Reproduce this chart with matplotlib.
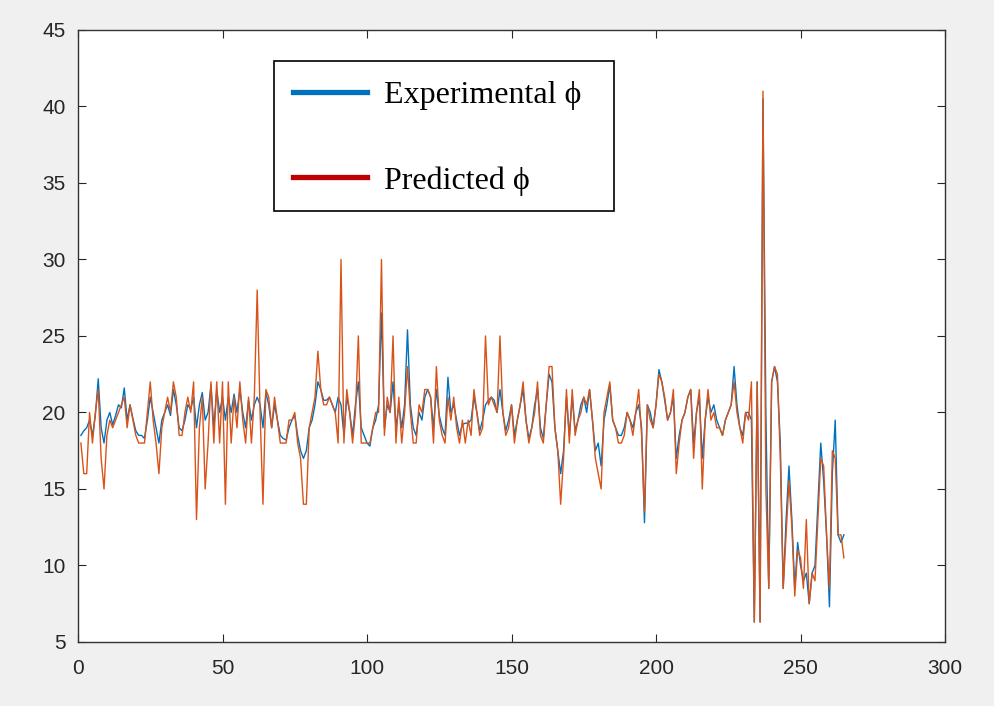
import matplotlib
matplotlib.use("Agg")
import matplotlib.pyplot as plt
from matplotlib.lines import Line2D
from matplotlib.patches import Rectangle

# valores (indice 1..265)
experimental = [
    18.5, 18.8, 19.0, 19.5, 18.5, 19.8, 22.2, 19.0, 18.0, 19.5,
    20.0, 19.2, 19.8, 20.5, 20.3, 21.6, 19.5, 20.5, 19.6, 18.8,
    18.5, 18.5, 18.3, 19.5, 21.0, 20.0, 19.0, 18.0, 19.5, 20.0,
    20.5, 19.8, 21.5, 20.5, 19.0, 18.8, 19.5, 20.5, 20.2, 21.0,
    19.0, 20.5, 21.3, 19.5, 20.0, 21.8, 19.0, 21.5, 20.0, 21.0,
    19.5, 21.0, 20.0, 21.2, 20.0, 21.5, 20.0, 19.0, 20.8, 19.5,
    20.5, 21.0, 20.5, 19.0, 21.3, 20.5, 19.0, 20.5, 19.5, 18.5,
    18.3, 18.2, 19.0, 19.5, 19.8, 18.5, 17.5, 17.0, 17.5, 19.0,
    19.5, 20.5, 22.0, 21.5, 20.8, 20.8, 21.0, 20.5, 20.0, 21.0,
    20.5, 18.5, 21.0, 20.0, 18.5, 20.5, 22.0, 19.0, 18.5, 18.0,
    17.8, 19.0, 19.5, 20.5, 26.5, 19.0, 20.5, 20.0, 22.0, 19.0,
    20.5, 19.0, 20.5, 25.4, 20.5, 19.0, 18.5, 20.0, 19.5, 21.0,
    21.5, 21.0, 19.0, 21.5, 19.8, 19.0, 18.5, 22.3, 20.0, 20.5,
    19.5, 18.5, 19.2, 19.3, 19.3, 19.5, 21.0, 20.0, 18.8, 19.5,
    20.5, 20.8, 21.0, 20.8, 20.0, 21.5, 20.0, 18.8, 19.5, 20.5,
    18.5, 19.5, 20.5, 21.5, 19.5, 18.3, 19.0, 20.5, 21.5, 19.0,
    18.3, 20.5, 22.5, 22.0, 19.0, 17.5, 16.0, 17.5, 21.0, 18.5,
    21.0, 18.8, 19.5, 20.5, 21.0, 20.0, 21.5, 19.5, 17.5, 18.0,
    16.5, 19.5, 20.5, 21.8, 19.5, 19.0, 18.5, 18.5, 19.0, 20.0,
    19.5, 19.0, 20.0, 20.5, 19.0, 12.8, 20.5, 20.0, 19.0, 20.5,
    22.8, 22.0, 20.8, 19.5, 20.0, 21.0, 17.0, 18.5, 19.5, 20.0,
    21.0, 21.5, 18.0, 20.0, 21.0, 17.0, 19.5, 21.0, 20.0, 20.5,
    19.5, 19.0, 18.5, 19.5, 20.0, 20.5, 23.0, 20.5, 19.0, 18.5,
    20.0, 20.0, 19.5, 6.3, 22.0, 6.3, 40.5, 20.0, 8.5, 22.0,
    23.0, 22.0, 18.0, 8.5, 13.0, 16.5, 13.0, 8.5, 11.5, 10.0,
    9.0, 9.5, 7.5, 9.5, 10.0, 14.0, 18.0, 15.5, 12.0, 7.3,
    16.0, 19.5, 12.0, 11.5, 12.0,
]

predicted = [
    18.0, 16.0, 16.0, 20.0, 18.0, 20.0, 21.5, 17.0, 15.0, 18.5,
    19.5, 19.0, 19.5, 20.0, 20.5, 21.0, 19.0, 20.5, 19.5, 18.5,
    18.0, 18.0, 18.0, 20.0, 22.0, 19.5, 18.0, 16.0, 19.0, 20.0,
    21.0, 20.0, 22.0, 21.0, 18.5, 18.5, 20.0, 21.0, 20.0, 22.0,
    13.0, 19.0, 21.0, 15.0, 18.0, 22.0, 18.0, 22.0, 18.0, 22.0,
    14.0, 22.0, 18.0, 21.0, 19.0, 22.0, 19.5, 18.0, 21.0, 18.0,
    21.0, 28.0, 20.0, 14.0, 21.5, 21.0, 19.0, 21.0, 19.5, 18.0,
    18.0, 18.0, 19.5, 19.5, 20.0, 18.0, 17.0, 14.0, 14.0, 19.0,
    20.0, 21.0, 24.0, 21.5, 20.5, 20.5, 21.0, 20.5, 20.0, 18.0,
    30.0, 18.0, 21.5, 20.0, 18.0, 20.0, 25.0, 18.0, 18.0, 18.0,
    18.0, 19.0, 20.0, 20.0, 30.0, 18.5, 21.0, 20.0, 25.0, 18.0,
    21.0, 18.0, 20.0, 23.0, 20.0, 18.0, 18.0, 20.5, 20.0, 21.5,
    21.5, 21.0, 18.0, 23.0, 19.5, 18.5, 18.0, 21.0, 19.5, 21.0,
    19.0, 18.0, 19.5, 18.0, 19.5, 18.5, 21.5, 20.0, 18.5, 19.0,
    25.0, 20.5, 21.0, 20.5, 20.0, 25.0, 20.0, 18.5, 19.0, 20.5,
    18.0, 19.5, 20.5, 22.0, 19.5, 18.0, 19.0, 20.0, 22.0, 18.5,
    18.0, 20.5, 23.0, 23.0, 19.0, 17.5, 14.0, 17.0, 21.5, 18.0,
    21.5, 18.5, 19.5, 20.0, 21.0, 20.5, 21.5, 19.5, 17.0, 16.0,
    15.0, 20.0, 21.0, 22.0, 19.5, 19.0, 18.0, 18.0, 18.5, 20.0,
    19.5, 18.5, 20.0, 21.5, 18.5, 13.5, 20.5, 19.5, 19.0, 20.5,
    22.5, 22.0, 21.0, 19.5, 20.0, 21.5, 16.0, 18.0, 19.5, 20.0,
    21.0, 21.5, 17.0, 20.0, 21.5, 15.0, 19.5, 21.5, 19.5, 20.0,
    19.0, 19.0, 18.5, 19.5, 20.0, 20.5, 22.0, 20.0, 19.0, 18.0,
    20.0, 19.5, 22.0, 6.3, 22.0, 6.3, 41.0, 15.0, 8.5, 22.0,
    23.0, 22.5, 17.0, 8.5, 12.0, 15.5, 12.5, 8.0, 11.0, 10.5,
    8.5, 13.0, 7.5, 9.5, 9.0, 13.0, 17.0, 16.5, 12.0, 8.5,
    17.5, 17.0, 12.0, 12.0, 10.5,
]

x = list(range(1, len(experimental) + 1))

plt.rcParams['font.family'] = ['Liberation Sans', 'DejaVu Sans']

fig = plt.figure(figsize=(9.95, 7.06), dpi=100, facecolor='#f0f0f0')
ax = fig.add_axes([0.0784, 0.0907, 0.8714, 0.8669])
ax.set_facecolor('white')

ax.plot(x, experimental, color='#0072BD', linewidth=1.0)
ax.plot(x, predicted, color='#D95319', linewidth=1.0)

ax.set_xlim(0, 300)
ax.set_ylim(5, 45)
ax.set_xticks(range(0, 301, 50))
ax.set_yticks(range(5, 46, 5))
ax.tick_params(direction='in', top=True, right=True, length=6, width=0.8,
               labelsize=15, labelcolor='#262626', color='#262626')
ax.tick_params(axis='x', pad=12)
ax.tick_params(axis='y', pad=9)
for s in ax.spines.values():
    s.set_color('#333333')
    s.set_linewidth(1.0)

# caixa da legenda desenhada a parte (a do MATLAB e mais larga)
caixa = Rectangle((0.2261, 0.7042), 0.6182 - 0.2261, 0.9493 - 0.7042,
                  transform=ax.transAxes, facecolor='white', edgecolor='black',
                  linewidth=1.2, zorder=4)
ax.add_patch(caixa)

handles = [Line2D([], [], color='#0072BD', linewidth=3.8),
           Line2D([], [], color='#C00000', linewidth=3.8)]
leg = ax.legend(handles, ['Experimental \u03d5', 'Predicted \u03d5'],
                loc='upper left', bbox_to_anchor=(0.2476, 0.9175), borderaxespad=0,
                prop={'family': ['Liberation Serif', 'DejaVu Serif'], 'size': 23},
                frameon=False, handlelength=2.32, handletextpad=0.55,
                labelspacing=1.76, borderpad=0)
leg.set_zorder(5)

fig.savefig('out.png', dpi=100, facecolor=fig.get_facecolor())
